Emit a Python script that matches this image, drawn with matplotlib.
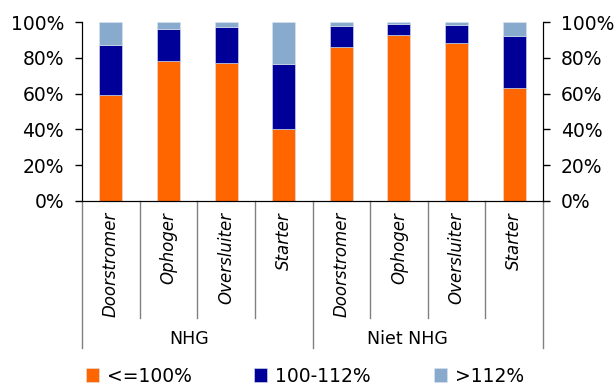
import numpy as np
import matplotlib.pyplot as plt
import matplotlib.transforms as mtransforms

# Data (share of each category, percent)
categories = ['Doorstromer', 'Ophoger', 'Oversluiter', 'Starter',
              'Doorstromer', 'Ophoger', 'Oversluiter', 'Starter']
groups = ['NHG', 'Niet NHG']
series_names = ['<=100%', '100-112%', '>112%']
low = [59, 78, 77, 40.5, 86, 93, 88.5, 63]
mid = [28, 18, 20, 36, 11.5, 6, 10, 29]
high = [13, 4, 3, 23.5, 2.5, 1, 1.5, 8]

colors = ['#FF6600', '#000099', '#88AACC']

plt.rcParams['font.family'] = 'DejaVu Sans'

fig = plt.figure(figsize=(6.15, 3.87), dpi=100)
ax = fig.add_axes([82/615, 1 - 201/387, (543-82)/615, (201-22)/387])

x = np.arange(len(categories))
bottom = np.zeros(len(categories))
handles = []
for vals, c, name in zip([low, mid, high], colors, series_names):
    h = ax.bar(x, vals, width=0.4, bottom=bottom, color=c, label=name,
               edgecolor='#dde4ee', linewidth=0.4)
    handles.append(h)
    bottom += np.array(vals)

ax.set_xlim(-0.5, len(categories) - 0.5)
ax.set_ylim(0, 100)
ax.set_yticks(range(0, 101, 20))
ax.set_yticklabels(['%d%%' % v for v in range(0, 101, 20)], fontsize=13.5)
ax.tick_params(axis='y', direction='out', length=5, width=1, pad=8)
ax.set_xticks([])
ax.spines['top'].set_visible(False)

ax2 = ax.twinx()
ax2.set_ylim(0, 100)
ax2.set_yticks(range(0, 101, 20))
ax2.set_yticklabels(['%d%%' % v for v in range(0, 101, 20)], fontsize=13.5)
ax2.tick_params(axis='y', direction='out', length=5, width=1, pad=8)
ax2.spines['top'].set_visible(False)

# Category axis below the plot
trans = mtransforms.blended_transform_factory(ax.transData, fig.transFigure)
y0 = 1 - 201/387
y_cat = 1 - 318/387
y_grp = 1 - 348/387
for b in np.arange(-0.5, len(categories), 1):
    is_group = b in (-0.5, 3.5, 7.5)
    ax.plot([b, b], [y0, y_grp if is_group else y_cat], transform=trans,
            color='#808080', lw=1, clip_on=False)

for xi, name in zip(x, categories):
    ax.text(xi, 1 - 212/387, name, transform=trans, rotation=90, style='italic',
            ha='center', va='top', fontsize=12)

# group labels sit a little left of the group centre, as in the original
for gx, g in zip([189, 407], groups):
    fig.text(gx/615, 1 - 339/387, g, ha='center', va='center', fontsize=12.5)

# Legend, one entry at a time
for h, name, lx in zip(handles, series_names, [86, 254, 434]):
    fig.legend([h], [name], loc='center left', bbox_to_anchor=(lx/615, 1 - 376/387),
               frameon=False, fontsize=13.5, handlelength=0.7, handleheight=0.7,
               handletextpad=0.4, borderpad=0, borderaxespad=0)

fig.savefig('out.png', dpi=100)
